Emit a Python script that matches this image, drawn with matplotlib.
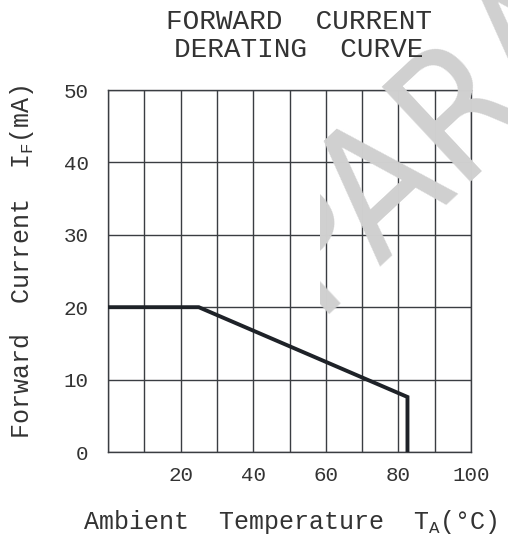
import numpy as np
import matplotlib.pyplot as plt
from matplotlib.patches import Rectangle

# ----- data -----
temp_c = [0, 25, 82.5, 82.5]          # ambient temperature (C)
current_ma = [20, 20, 7.6, 0]         # max forward current (mA)
x_ticks = [0, 10, 20, 30, 40, 50, 60, 70, 80, 90, 100]
x_tick_labels = ["", "", "20", "", "40", "", "60", "", "80", "", "100"]
y_ticks = [0, 10, 20, 30, 40, 50]
y_tick_labels = ["0", "10", "20", "30", "40", "50"]

FONT = "Liberation Mono"
INK = "#333333"
W, H = 508, 537

plt.rcParams["mathtext.fontset"] = "custom"
plt.rcParams["mathtext.rm"] = FONT

fig = plt.figure(figsize=(W / 100, H / 100), dpi=100)

# faint watermark behind the chart, only its upper right part shows
wm = fig.text(313 / W, 1 - 314 / H, "PARAMETER", fontsize=128, family="DejaVu Sans",
              fontstretch="condensed", color="#d0d0d0", rotation=43,
              rotation_mode="anchor", ha="left", va="baseline", zorder=0)
wm.set_clip_path(Rectangle((320 / W, 1 - 315 / H), 1, 1, transform=fig.transFigure))

ax = fig.add_axes([108 / W, 1 - 452 / H, 363 / W, 362 / H])
ax.patch.set_alpha(0)
ax.plot(temp_c, current_ma, color="#1e2228", lw=2.8, solid_joinstyle="miter", zorder=3)

ax.set_xlim(0, 100)
ax.set_ylim(0, 50)
ax.set_xticks(x_ticks, x_tick_labels, family=FONT, fontsize=15, color=INK)
ax.set_yticks(y_ticks, y_tick_labels, family=FONT, fontsize=15, color=INK)
ax.tick_params(length=0)
ax.tick_params(axis="x", pad=10)
ax.tick_params(axis="y", pad=14)
ax.grid(True, color="#3a3d42", lw=1.0)
for s in ax.spines.values():
    s.set_color("#3a3d42")
    s.set_linewidth(1.0)

fig.text(299 / W, 1 - 22 / H, "FORWARD  CURRENT", family=FONT, fontsize=20,
         color=INK, ha="center", va="center")
fig.text(299 / W, 1 - 50 / H, "DERATING  CURVE", family=FONT, fontsize=20,
         color=INK, ha="center", va="center")

fig.text(290 / W, 1 - 522 / H, r"Ambient  Temperature  T$\mathregular{_A}$(°C)",
         family=FONT, fontsize=18, color=INK, ha="center", va="center")
fig.text(22 / W, 1 - 262 / H, r"Forward  Current  I$\mathregular{_F}$(mA)",
         family=FONT, fontsize=18, color=INK, ha="center", va="center",
         rotation=90)

fig.savefig("out.png", dpi=100)
